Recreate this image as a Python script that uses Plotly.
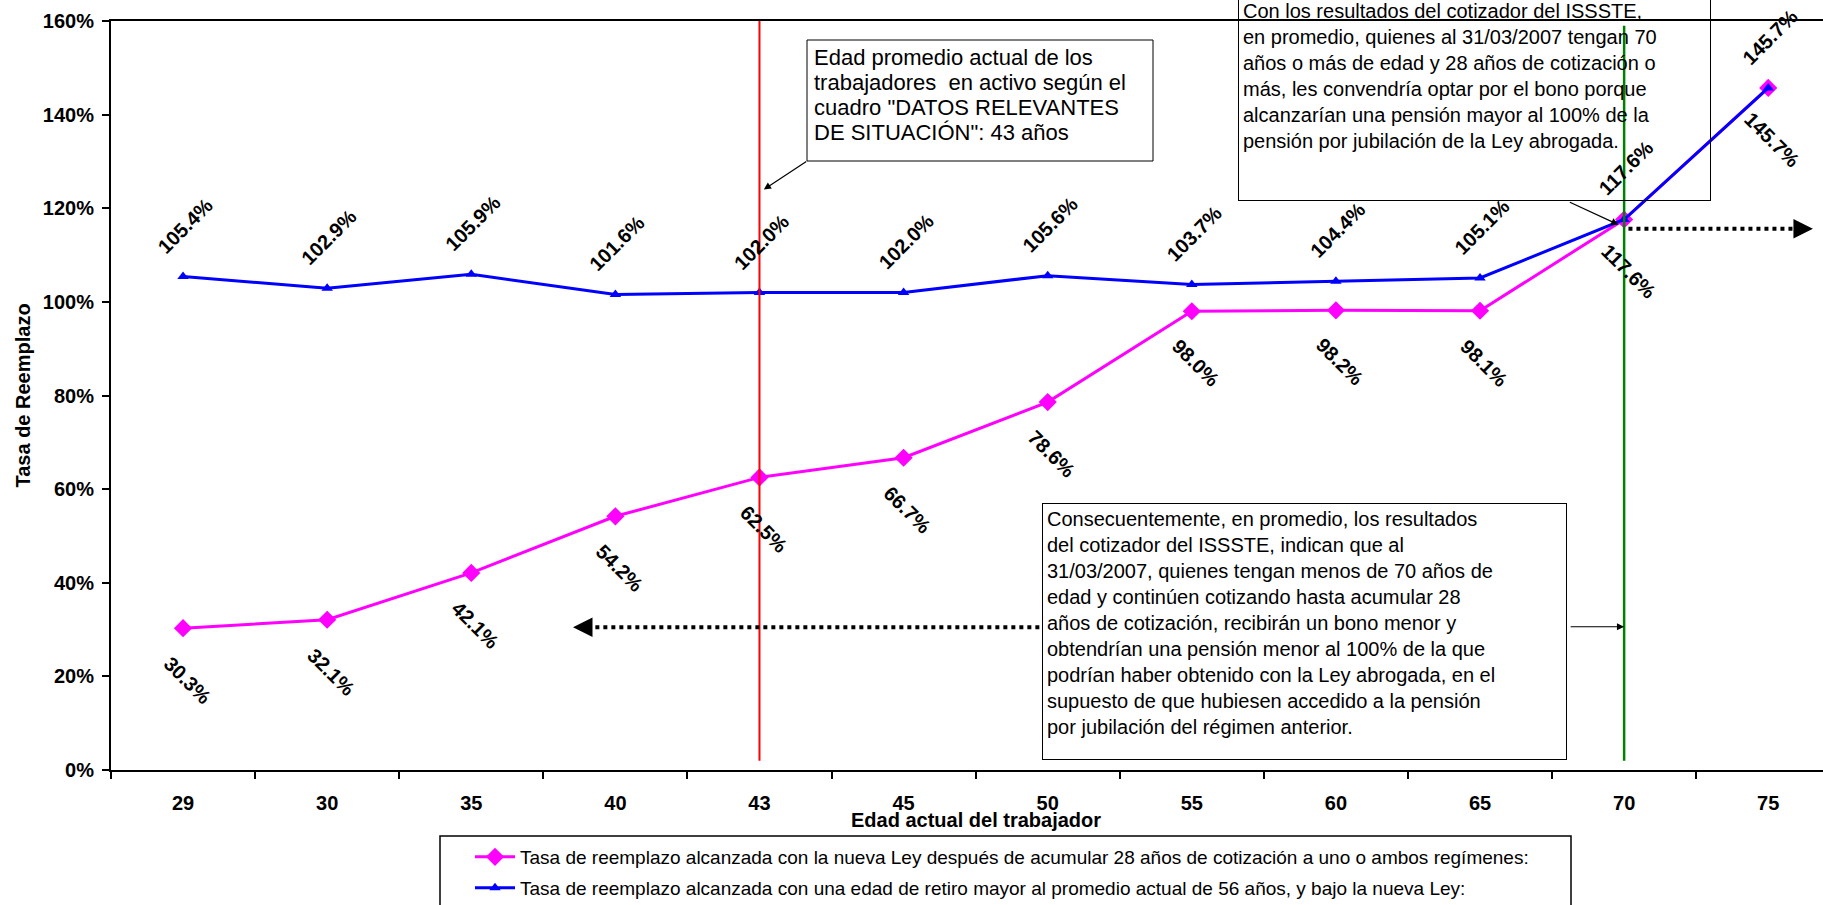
import plotly.graph_objects as go

# ---------------- data ----------------
categories = ["29", "30", "35", "40", "43", "45", "50", "55", "60", "65", "70", "75"]
pink_vals = [30.3, 32.1, 42.1, 54.2, 62.5, 66.7, 78.6, 98.0, 98.2, 98.1, 117.6, 145.7]
blue_vals = [105.4, 102.9, 105.9, 101.6, 102.0, 102.0, 105.6, 103.7, 104.4, 105.1, 117.6, 145.7]
y_ticks = [0, 20, 40, 60, 80, 100, 120, 140, 160]

pink_name = "Tasa de reemplazo alcanzada con la nueva Ley después de acumular 28 años de cotización a uno o ambos regímenes:"
blue_name = "Tasa de reemplazo alcanzada con una edad de retiro mayor al promedio actual de 56 años, y bajo la nueva Ley:"

box1_lines = ["Edad promedio actual de los",
              "trabajadores  en activo según el",
              "cuadro \"DATOS RELEVANTES",
              "DE SITUACIÓN\": 43 años"]
box2_text = ("Con los resultados del cotizador del ISSSTE,<br>"
             "en promedio, quienes al 31/03/2007 tengan 70<br>"
             "años o más de edad y 28 años de cotización o<br>"
             "más, les convendría optar por el bono porque<br>"
             "alcanzarían una pensión mayor al 100% de la<br>"
             "pensión por jubilación de la Ley abrogada.")
box3_text = ("Consecuentemente, en promedio, los resultados<br>"
             "del cotizador del ISSSTE, indican que al<br>"
             "31/03/2007, quienes tengan menos de 70 años de<br>"
             "edad y continúen cotizando hasta acumular 28<br>"
             "años de cotización, recibirán un bono menor y<br>"
             "obtendrían una pensión menor al 100% de la que<br>"
             "podrían haber obtenido con la Ley abrogada, en el<br>"
             "supuesto de que hubiesen accedido a la pensión<br>"
             "por jubilación del régimen anterior.")

avg_age_idx = categories.index("43")
limit_age_idx = categories.index("70")

# ---------------- layout geometry ----------------
W, H = 1823, 905
L, T, B = 111, 21, 770


def px_x(X):
    return (X - L) / (W - L)


def px_y(Y):
    return (B - Y) / (B - T)


FONT = "Liberation Sans, Arial, sans-serif"

fig = go.Figure()

fig.add_trace(go.Scatter(
    x=categories, y=pink_vals, mode="lines+markers", name=pink_name,
    line=dict(color="#FF00FF", width=3),
    marker=dict(symbol="diamond", size=14, color="#FF00FF"),
    legend="legend",
))
fig.add_trace(go.Scatter(
    x=categories, y=blue_vals, mode="lines+markers", name=blue_name,
    line=dict(color="#0000FF", width=3),
    marker=dict(symbol="triangle-up", size=10, color="#0000FF"),
    legend="legend2",
))

annotations = []
# data labels
for i, v in enumerate(pink_vals):
    annotations.append(dict(x=i, y=v, xref="x", yref="y", text=f"{v:.1f}%", showarrow=False,
                            textangle=45, yshift=-52, xshift=4,
                            font=dict(family=FONT, size=20, color="black", weight="bold")))
for i, v in enumerate(blue_vals):
    annotations.append(dict(x=i, y=v, xref="x", yref="y", text=f"{v:.1f}%", showarrow=False,
                            textangle=-45, yshift=51, xshift=2,
                            font=dict(family=FONT, size=20, color="black", weight="bold")))

# box 1: line-by-line text
for k, line in enumerate(box1_lines):
    annotations.append(dict(x=px_x(812), y=px_y(57 + 25.3 * k), xref="paper", yref="paper",
                            xanchor="left", yanchor="middle", text=line, showarrow=False,
                            font=dict(family=FONT, size=22, color="black")))
# boxes 2 and 3
annotations.append(dict(x=px_x(1238), y=px_y(200.7), xref="paper", yref="paper", xanchor="left", yanchor="bottom",
                        text=box2_text, showarrow=False, align="left", valign="top",
                        width=463, height=196, borderpad=4, borderwidth=1, bordercolor="black",
                        font=dict(family=FONT, size=20, color="black")))
annotations.append(dict(x=px_x(1042), y=px_y(502.7), xref="paper", yref="paper", xanchor="left", yanchor="top",
                        text=box3_text, showarrow=False, align="left", valign="top",
                        width=515, height=247, borderpad=4, borderwidth=1, bordercolor="black",
                        bgcolor="white", font=dict(family=FONT, size=20, color="black")))

# callout arrows
annotations.append(dict(x=avg_age_idx + 0.03, y=124, xref="x", yref="y", text="", showarrow=True,
                        ax=44, ay=-29, arrowhead=2, arrowsize=1.2, arrowwidth=1.2, arrowcolor="black"))
annotations.append(dict(x=limit_age_idx - 0.04, y=116.5, xref="x", yref="y", text="", showarrow=True,
                        ax=-50, ay=-23, arrowhead=2, arrowsize=1.2, arrowwidth=1.2, arrowcolor="black"))
annotations.append(dict(x=limit_age_idx, y=30.6, xref="x", yref="y", text="", showarrow=True,
                        ax=-55, ay=0, arrowhead=2, arrowsize=1.2, arrowwidth=1.2, arrowcolor="black"))
# dotted arrow heads
annotations.append(dict(x=2.706, y=30.5, xref="x", yref="y", text="", showarrow=True,
                        ax=10, ay=0, arrowhead=2, arrowsize=1.3, arrowwidth=3, arrowcolor="black"))
annotations.append(dict(x=11.31, y=115.6, xref="x", yref="y", text="", showarrow=True,
                        ax=-10, ay=0, arrowhead=2, arrowsize=1.3, arrowwidth=3, arrowcolor="black"))

# axis titles
annotations.append(dict(x=px_x(976), y=px_y(820), xref="paper", yref="paper", xanchor="center", yanchor="middle",
                        text="Edad actual del trabajador", showarrow=False,
                        font=dict(family=FONT, size=20, color="black", weight="bold")))
annotations.append(dict(x=px_x(22), y=0.5, xref="paper", yref="paper", xanchor="center", yanchor="middle",
                        text="Tasa de Reemplazo", textangle=-90, showarrow=False,
                        font=dict(family=FONT, size=20, color="black", weight="bold")))

shapes = [
    dict(type="line", xref="x", yref="y", x0=avg_age_idx, x1=avg_age_idx, y0=2, y1=160,
         line=dict(color="#FF0000", width=2)),
    dict(type="line", xref="x", yref="y", x0=limit_age_idx, x1=limit_age_idx, y0=2, y1=159,
         line=dict(color="#008000", width=2.5)),
    dict(type="line", xref="x", yref="y", x0=2.75, x1=5.95, y0=30.5, y1=30.5,
         line=dict(color="black", width=4, dash="dot")),
    dict(type="line", xref="x", yref="y", x0=10.03, x1=11.25, y0=115.6, y1=115.6,
         line=dict(color="black", width=4, dash="dot")),
    # box 1 frame
    dict(type="rect", xref="paper", yref="paper", x0=px_x(807), x1=px_x(1153), y0=px_y(161), y1=px_y(40),
         line=dict(color="black", width=1), fillcolor="white"),
    # legend frame
    dict(type="rect", xref="paper", yref="paper", x0=px_x(440), x1=px_x(1571), y0=px_y(836), y1=px_y(925),
         line=dict(color="black", width=1.5), fillcolor="rgba(0,0,0,0)"),
]

fig.update_layout(
    width=W, height=H,
    margin=dict(l=L, r=0, t=T, b=H - B, autoexpand=False),
    paper_bgcolor="white", plot_bgcolor="white",
    font=dict(family=FONT, color="black"),
    xaxis=dict(type="category", range=[-0.5, 11.38], tickson="boundaries", ticks="outside", ticklen=7,
               tickwidth=1.5, tickcolor="black", showline=True, linecolor="black", linewidth=2,
               mirror=True, showgrid=False, zeroline=False, automargin=False, ticklabelstandoff=14,
               tickfont=dict(family=FONT, size=20, color="black", weight="bold")),
    yaxis=dict(range=[0, 160], tickvals=y_ticks, ticktext=[f"{t}%" for t in y_ticks], ticks="outside",
               ticklen=7, tickwidth=1.5, tickcolor="black", showline=True, linecolor="black", linewidth=2,
               showgrid=False, zeroline=False, automargin=False, ticklabelstandoff=4,
               tickfont=dict(family=FONT, size=20, color="black", weight="bold")),
    legend=dict(x=px_x(470), y=px_y(857), xanchor="left", yanchor="middle", bgcolor="rgba(0,0,0,0)",
                font=dict(family=FONT, size=19, color="black"), itemwidth=40),
    legend2=dict(x=px_x(470), y=px_y(888), xanchor="left", yanchor="middle", bgcolor="rgba(0,0,0,0)",
                 font=dict(family=FONT, size=19, color="black"), itemwidth=40),
    annotations=annotations,
    shapes=shapes,
    showlegend=True,
)

fig.write_html("out.html")
